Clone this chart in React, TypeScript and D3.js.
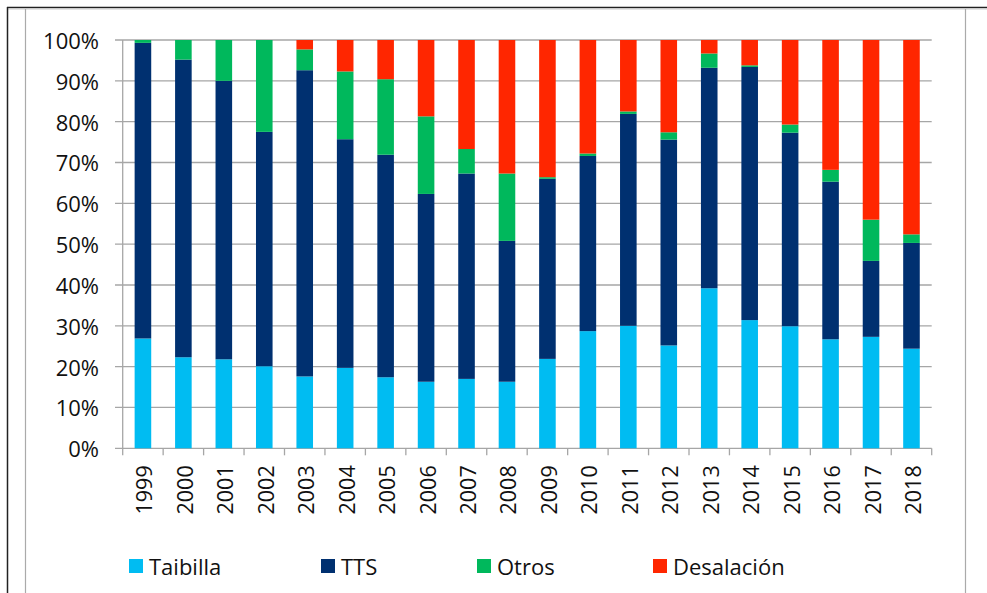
import { useMemo } from "react";
import * as d3 from "d3";

const YEARS = [
  "1999", "2000", "2001", "2002", "2003", "2004", "2005", "2006", "2007", "2008",
  "2009", "2010", "2011", "2012", "2013", "2014", "2015", "2016", "2017", "2018",
];
const SERIES = ["Taibilla", "TTS", "Otros", "Desalación"];
const TAIBILLA = [26.9, 22.3, 21.8, 20.1, 17.6, 19.7, 17.4, 16.3, 17.0, 16.3, 21.9, 28.7, 30.0, 25.2, 39.2, 31.4, 29.9, 26.7, 27.3, 24.4];
const TTS = [72.4, 72.9, 68.2, 57.4, 75.0, 56.0, 54.5, 46.0, 50.3, 34.5, 44.1, 42.9, 51.9, 50.4, 54.0, 62.0, 47.4, 38.6, 18.6, 25.9];
const OTROS = [0.7, 4.8, 10.0, 22.5, 5.1, 16.6, 18.5, 19.0, 6.0, 16.5, 0.4, 0.6, 0.6, 1.8, 3.5, 0.4, 2.0, 2.9, 10.1, 2.1];
const DESALACION = [0, 0, 0, 0, 2.3, 7.7, 9.6, 18.7, 26.7, 32.7, 33.6, 27.8, 17.5, 22.6, 3.3, 6.2, 20.7, 31.8, 44.0, 47.6];
const Y_TICKS = [0, 0.1, 0.2, 0.3, 0.4, 0.5, 0.6, 0.7, 0.8, 0.9, 1];

const COLORS = ["#00bcf2", "#003070", "#00b85c", "#ff2600"];
const WIDTH = 987;
const HEIGHT = 593;
const FONT = "'Open Sans', 'Noto Sans', sans-serif";
const GRID = "#a6a6a6";

export default function App() {
  const margin = { left: 122.7, right: 55.3, top: 40, bottom: 144.7 };

  const x = d3
    .scaleBand<string>()
    .domain(YEARS)
    .range([margin.left, WIDTH - margin.right])
    .paddingInner(0.59)
    .paddingOuter(0.295);
  const y = d3.scaleLinear().domain([0, 1]).range([HEIGHT - margin.bottom, margin.top]);

  const stacked = useMemo(() => {
    const rows = YEARS.map((yr, i) => ({
      year: yr,
      Taibilla: TAIBILLA[i],
      TTS: TTS[i],
      Otros: OTROS[i],
      "Desalación": DESALACION[i],
    }));
    return d3.stack<any>().keys(SERIES).offset(d3.stackOffsetExpand)(rows);
  }, []);

  const y0 = y(0);
  const step = x.step();
  const x0 = margin.left;
  const x1 = WIDTH - margin.right;
  const legendX = [129, 321, 477, 653];

  return (
    <svg
      width={WIDTH}
      height={HEIGHT}
      style={{ position: "absolute", left: 0, top: 0, background: "#fff" }}
      fontFamily={FONT}
    >
      {/* frame */}
      <line x1={7} y1={7.5} x2={WIDTH} y2={7.5} stroke="#222" strokeWidth={1.5} />
      <line x1={7} y1={9} x2={WIDTH} y2={9} stroke="#ccc" strokeWidth={1} />
      <line x1={7.5} y1={7} x2={7.5} y2={HEIGHT} stroke="#222" strokeWidth={1.5} />
      <line x1={25.5} y1={9} x2={25.5} y2={HEIGHT} stroke="#aaa" strokeWidth={1.2} />
      <line x1={965.5} y1={9} x2={965.5} y2={HEIGHT} stroke="#aaa" strokeWidth={1.2} />

      {/* grid + y labels */}
      {Y_TICKS.map((t) => (
        <g key={t}>
          <line x1={115} x2={x1} y1={y(t)} y2={y(t)} stroke={GRID} strokeWidth={1.3} />
          <text
            x={99}
            y={y(t)}
            textAnchor="end"
            dominantBaseline="central"
            fontSize={22}
            fill="#111"
          >
            {d3.format(".0%")(t)}
          </text>
        </g>
      ))}
      <line x1={x0} x2={x0} y1={margin.top} y2={y0} stroke={GRID} strokeWidth={1.3} />

      {/* x ticks */}
      {d3.range(YEARS.length + 1).map((i) => (
        <line
          key={i}
          x1={x0 + i * step}
          x2={x0 + i * step}
          y1={y0}
          y2={y0 + 7}
          stroke={GRID}
          strokeWidth={1.3}
        />
      ))}

      {/* bars */}
      {stacked.map((s, si) => (
        <g key={s.key} fill={COLORS[si]}>
          {s.map((d: any) => {
            const h = y(d[0]) - y(d[1]);
            if (h <= 0) return null;
            return (
              <rect
                key={d.data.year}
                x={x(d.data.year)}
                y={y(d[1])}
                width={x.bandwidth()}
                height={h}
              />
            );
          })}
        </g>
      ))}

      {/* year labels */}
      {YEARS.map((yr) => {
        const cx = (x(yr) ?? 0) + x.bandwidth() / 2;
        return (
          <text
            key={yr}
            transform={`translate(${cx + 1},${y0 + 17}) rotate(-90)`}
            textAnchor="end"
            dominantBaseline="central"
            fontSize={21.5}
            fill="#111"
          >
            {yr}
          </text>
        );
      })}

      {/* legend */}
      {SERIES.map((name, i) => (
        <g key={name} transform={`translate(${legendX[i]},559)`}>
          <rect width={14} height={14} fill={COLORS[i]} />
          <text x={20} y={7} dominantBaseline="central" fontSize={22} fill="#111">
            {name}
          </text>
        </g>
      ))}
    </svg>
  );
}
